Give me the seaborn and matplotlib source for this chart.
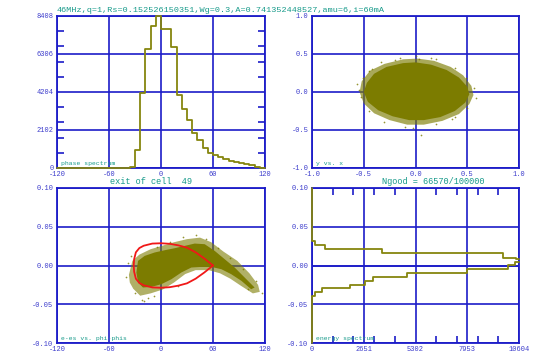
import numpy as np
import pandas as pd
import matplotlib
matplotlib.use('Agg')
import matplotlib.pyplot as plt
from matplotlib.ticker import MultipleLocator
import seaborn as sns

# phase spectrum (counts per 6 deg bin, -120..120)
phase_counts = [0, 0, 0, 0, 0, 0, 0, 0, 0, 0, 0, 0, 0, 0,
                60, 1000, 4170, 6600, 7880, 8408, 7700, 7700, 6700, 4050,
                3250, 2650, 1920, 1550, 1090, 810, 720, 590, 480, 390,
                340, 295, 220, 150, 80, 20]

# y vs x cloud: dense core outline, sparse fringe outline, stray particles
yx_core_x = [-0.50, -0.47, -0.40, -0.28, -0.12, 0.00, 0.15, 0.30, 0.42, 0.50,
             0.52, 0.48, 0.38, 0.24, 0.08, -0.06, -0.22, -0.36, -0.46]
yx_core_y = [0.00, 0.12, 0.24, 0.33, 0.38, 0.39, 0.36, 0.29, 0.19, 0.07,
             -0.03, -0.14, -0.25, -0.33, -0.37, -0.37, -0.32, -0.24, -0.13]
yx_fringe_x = [-0.54, -0.52, -0.44, -0.30, -0.12, 0.02, 0.18, 0.34, 0.46, 0.54,
               0.56, 0.52, 0.42, 0.26, 0.08, -0.08, -0.25, -0.40, -0.50]
yx_fringe_y = [0.00, 0.14, 0.28, 0.37, 0.43, 0.44, 0.41, 0.33, 0.22, 0.08,
               -0.04, -0.16, -0.29, -0.38, -0.43, -0.43, -0.37, -0.28, -0.15]
yx_halo_x = [-0.57, -0.55, -0.53, -0.51, -0.45, -0.33, -0.15, 0.00, 0.03, 0.20,
             0.38, 0.49, 0.57, 0.58, 0.50, 0.38, 0.20, 0.05, -0.02, -0.10,
             -0.30, -0.45, 0.15, -0.20, 0.35, -0.42]
yx_halo_y = [0.11, 0.03, -0.06, 0.18, 0.27, 0.40, 0.45, 0.48, 0.44, 0.44,
             0.32, 0.18, 0.05, -0.08, -0.21, -0.33, -0.42, -0.56, -0.47, -0.46,
             -0.40, -0.25, 0.45, 0.42, -0.36, 0.30]

# w-ws vs phi-phis: core outline, fringe outline, stray particles, separatrix
ps_core_phi = [-28.4, -26.5, -18.8, -7.3, 4.3, 15.8, 27.3, 38.9, 50.4, 62, 73.5, 85, 96.5, 108,
               104, 92.8, 81, 69.7, 58, 46.6, 35, 23.5, 12, 0.5, -11, -20.8, -26.5]
ps_core_w = [-0.009, 0.006, 0.0124, 0.0168, 0.0197, 0.0223, 0.0253, 0.0283, 0.0275, 0.0188, 0.0081, -0.0026, -0.0155, -0.0284,
             -0.0306, -0.0198, -0.0112, -0.0048, -0.0018, -0.0018, -0.0026, -0.009, -0.0177, -0.0241, -0.0276, -0.0284, -0.022]
ps_fringe_phi = [-37, -33, -25, -12, 0, 15, 30, 45, 58, 72, 88, 102, 112, 114,
                 106, 92, 80, 68, 55, 40, 28, 15, 2, -12, -24, -32, -36]
ps_fringe_w = [-0.012, 0.006, 0.014, 0.021, 0.025, 0.030, 0.034, 0.036, 0.030, 0.018, 0.006, -0.010, -0.025, -0.034,
               -0.036, -0.026, -0.017, -0.010, -0.006, -0.006, -0.011, -0.022, -0.031, -0.036, -0.039, -0.030, -0.022]
ps_halo_phi = [-40, -38, -35, -30, -22, -15, -5, 10, 25, 40, 52, 66, 80, 95, 110, 117, 100, -20, -8, 20]
ps_halo_w = [-0.015, 0.003, 0.012, -0.036, -0.044, -0.042, 0.024, 0.030, 0.037, 0.039, 0.034, 0.023, 0.010, -0.004, -0.020, -0.036, -0.030, -0.046, -0.039, -0.027]
sep_phi = [60, 50, 40, 30, 20, 10, 0, -10, -20, -25, -29, -31, -31.5,
           -31, -29, -25, -20, -10, 0, 10, 20, 30, 40, 50, 60]
sep_w = [0, 0.009, 0.017, 0.023, 0.026, 0.028, 0.0287, 0.0283, 0.0255, 0.0225, 0.017, 0.008, 0,
         -0.008, -0.017, -0.0225, -0.0255, -0.0283, -0.0287, -0.028, -0.026, -0.023, -0.017, -0.009, 0]

# energy spectrum (upper / lower envelopes)
es_up_x = [0, 0, 150, 650, 3580, 9800, 10450, 10604]
es_up_y = [0.10, 0.032, 0.027, 0.021, 0.0155, 0.0098, 0.008, 0.008]
es_lo_x = [0, 0, 150, 500, 1960, 2730, 3150, 4860, 7930, 10060, 10400, 10604]
es_lo_y = [-0.10, -0.039, -0.034, -0.029, -0.025, -0.020, -0.015, -0.010, -0.005, 0.001, 0.005, 0.005]

title = "46MHz,q=1,Rs=0.152526150351,Wg=0.3,A=0.741352448527,amu=6,i=60mA"

BLUE = '#1c1cc8'
TICK = '#3c3ccc'
TEAL = '#179a8a'
OLIVE = '#7c7c00'
HIST = '#86860e'

sns.set_style('white')
plt.rcParams['font.family'] = ['Liberation Mono', 'DejaVu Sans Mono']

fig = plt.figure(figsize=(5.35, 3.57), dpi=100)
W, H = 535, 357
ax1 = fig.add_axes([57 / W, 1 - 168 / H, 208 / W, 152 / H])
ax2 = fig.add_axes([312 / W, 1 - 168 / H, 207 / W, 152 / H])
ax3 = fig.add_axes([57 / W, 1 - 343 / H, 208 / W, 155 / H])
ax4 = fig.add_axes([312 / W, 1 - 343 / H, 207 / W, 155 / H])


def style(ax, grid=True):
    for s in ax.spines.values():
        s.set_color(BLUE)
        s.set_linewidth(1.3)
    ax.tick_params(which='major', length=0, labelsize=5, labelcolor=TICK, pad=2.5)
    ax.grid(grid, color=BLUE, lw=1.2)
    ax.set_axisbelow(True)
    ax.set_xlabel('')
    ax.set_ylabel('')


def corner(ax, s):
    ax.text(0.02, 0.015, s, transform=ax.transAxes, fontsize=4.6, color=TEAL,
            ha='left', va='bottom')


# phase spectrum
centers = np.arange(-117, 120, 6)
hist_df = pd.DataFrame({'phase': centers, 'count': phase_counts})
sns.histplot(data=hist_df, x='phase', weights='count', binwidth=6, binrange=(-120, 120),
             element='step', fill=False, color=HIST, linewidth=1.3, ax=ax1, zorder=3)
for art in ax1.lines + ax1.patches:
    art.set_clip_on(False)
    art.set_zorder(3)
ax1.set_xlim(-120, 120)
ax1.set_ylim(0, 8408)
ax1.set_xticks([-120, -60, 0, 60, 120])
ax1.set_xticklabels(['-120', '-60', '0', '60', '120'])
ax1.set_yticks([0, 2102, 4204, 6306, 8408])
ax1.set_yticklabels(['0', '2102', '4204', '6306', '8408'])
style(ax1)
ax1.yaxis.set_minor_locator(MultipleLocator(840.8))
ax1.tick_params(which='minor', direction='in', left=True, right=True, length=5,
                width=1.2, color=BLUE)
corner(ax1, 'phase spectrum')

# y vs x
ax2.fill(yx_fringe_x, yx_fringe_y, color=OLIVE, alpha=0.65, lw=0, zorder=2)
ax2.fill(yx_core_x, yx_core_y, color=OLIVE, lw=0, zorder=2)
sns.scatterplot(x=yx_halo_x, y=yx_halo_y, color=OLIVE, s=1.5, alpha=0.8, linewidth=0, ax=ax2, zorder=2)
ax2.set_xlim(-1, 1)
ax2.set_ylim(-1, 1)
ax2.set_xticks([-1, -0.5, 0, 0.5, 1])
ax2.set_xticklabels(['-1.0', '-0.5', '0.0', '0.5', '1.0'])
ax2.set_yticks([-1, -0.5, 0, 0.5, 1])
ax2.set_yticklabels(['-1.0', '-0.5', '0.0', '0.5', '1.0'])
style(ax2)
corner(ax2, 'y vs. x')

# phase space
ax3.fill(ps_fringe_phi, ps_fringe_w, color=OLIVE, alpha=0.6, lw=0, zorder=2)
ax3.fill(ps_core_phi, ps_core_w, color=OLIVE, lw=0, zorder=2)
sns.scatterplot(x=ps_halo_phi, y=ps_halo_w, color=OLIVE, s=1.5, alpha=0.8, linewidth=0, ax=ax3, zorder=2)
sns.lineplot(x=sep_phi, y=sep_w, sort=False, estimator=None, color='#f01818',
             linewidth=1.3, ax=ax3, zorder=4)
ax3.set_xlim(-120, 120)
ax3.set_ylim(-0.1, 0.1)
ax3.set_xticks([-120, -60, 0, 60, 120])
ax3.set_xticklabels(['-120', '-60', '0', '60', '120'])
ax3.set_yticks([-0.1, -0.05, 0, 0.05, 0.1])
ax3.set_yticklabels(['-0.10', '-0.05', '0.00', '0.05', '0.10'])
style(ax3)
corner(ax3, 'e-es vs. phi-phis')

# energy spectrum
sns.lineplot(x=es_up_x, y=es_up_y, sort=False, estimator=None, color=HIST, linewidth=1.3,
             drawstyle='steps-post', ax=ax4, zorder=4, clip_on=False)
sns.lineplot(x=es_lo_x, y=es_lo_y, sort=False, estimator=None, color=HIST, linewidth=1.3,
             drawstyle='steps-post', ax=ax4, zorder=4, clip_on=False)
ax4.axhline(0, color=BLUE, lw=1.2, zorder=1)
ax4.set_xlim(0, 10604)
ax4.set_ylim(-0.1, 0.1)
ax4.set_xticks([0, 2651, 5302, 7953, 10604])
ax4.set_xticklabels(['0', '2651', '5302', '7953', '10604'])
ax4.set_yticks([-0.1, -0.05, 0, 0.05, 0.1])
ax4.set_yticklabels(['-0.10', '-0.05', '0.00', '0.05', '0.10'])
style(ax4, grid=False)
ax4.xaxis.set_minor_locator(MultipleLocator(1060.4))
ax4.tick_params(axis='x', which='minor', direction='in', top=True, bottom=True, length=5,
                width=1.2, color=BLUE)
ax4.yaxis.set_minor_locator(MultipleLocator(0.05))
ax4.tick_params(axis='y', which='minor', direction='in', left=True, right=True, length=7,
                width=1.5, color=BLUE)
corner(ax4, 'energy spectrum')

fig.text(57 / W, 1 - 10 / H, title, fontsize=6.1, color=TEAL, ha='left', va='center')
fig.text(151 / W, 1 - 182 / H, 'exit of cell  49', fontsize=6.2, color=TEAL, ha='center', va='center')
fig.text(433 / W, 1 - 182 / H, 'Ngood = 66570/100000', fontsize=6.2, color=TEAL, ha='center', va='center')

fig.savefig('out.png', dpi=100)
